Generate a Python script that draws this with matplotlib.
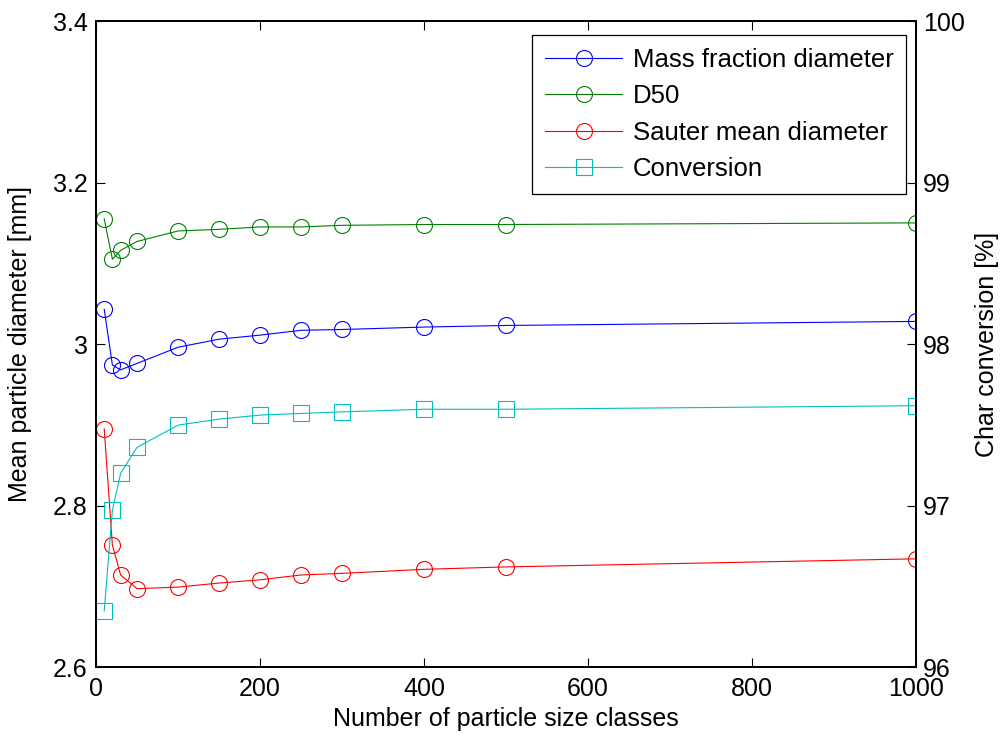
import matplotlib.pyplot as plt
import numpy as np

plt.rcParams['font.family'] = ['Liberation Sans', 'DejaVu Sans']

# numero de clases de tamaño
n_classes = [10, 20, 30, 50, 100, 150, 200, 250, 300, 400, 500, 1000]

# diametros [mm]
mass_fraction = [3.043, 2.974, 2.968, 2.976, 2.996, 3.006, 3.011, 3.017, 3.018, 3.021, 3.023, 3.028]
d50 = [3.155, 3.105, 3.116, 3.127, 3.140, 3.142, 3.145, 3.145, 3.147, 3.148, 3.148, 3.150]
sauter = [2.895, 2.751, 2.714, 2.697, 2.699, 2.704, 2.708, 2.714, 2.716, 2.721, 2.724, 2.734]

# conversion del char [%]
conversion = [96.347, 96.972, 97.199, 97.360, 97.498, 97.535, 97.560, 97.570, 97.580, 97.596, 97.596, 97.618]

fs = 18
fig = plt.figure(figsize=(10, 7.4), dpi=100)
ax = fig.add_axes([0.096, 0.0986, 0.82, 0.873])
ax2 = ax.twinx()

mk = dict(marker='o', markersize=11.5, markerfacecolor='none', markeredgewidth=0.8, linewidth=0.8)
l1, = ax.plot(n_classes, mass_fraction, color='b', markeredgecolor='b', label='Mass fraction diameter', **mk)
l2, = ax.plot(n_classes, d50, color='g', markeredgecolor='g', label='D50', **mk)
l3, = ax.plot(n_classes, sauter, color='r', markeredgecolor='r', label='Sauter mean diameter', **mk)
l4, = ax2.plot(n_classes, conversion, color='c', marker='s', markersize=11.5, markerfacecolor='none',
               markeredgecolor='c', markeredgewidth=0.8, linewidth=0.8, label='Conversion')

ax.set_xlim(0, 1000)
ax.set_ylim(2.6, 3.4)
ax2.set_ylim(96, 100)
ax.set_xticks([0, 200, 400, 600, 800, 1000])
ax.set_yticks([2.6, 2.8, 3.0, 3.2, 3.4])
ax.set_yticklabels(['2.6', '2.8', '3', '3.2', '3.4'])
ax2.set_yticks([96, 97, 98, 99, 100])

ax.tick_params(axis='both', direction='in', length=6.5, width=0.8, labelsize=fs, pad=6, top=True)
ax.tick_params(axis='x', pad=7)
ax2.tick_params(axis='y', direction='in', length=6.5, width=0.8, labelsize=fs, pad=5)

for a in (ax, ax2):
    for s in a.spines.values():
        s.set_linewidth(1.4)

ax.set_xlabel('Number of particle size classes', fontsize=fs)
ax.set_ylabel('Mean particle diameter [mm]', fontsize=fs)
ax2.set_ylabel('Char conversion [%]', fontsize=fs, rotation=90)
ax.yaxis.set_label_coords(-0.078, 0.5)
ax2.yaxis.set_label_coords(1.072, 0.5)
ax.xaxis.set_label_coords(0.5, -0.062)

leg = ax2.legend(handles=[l1, l2, l3, l4], loc='upper right', bbox_to_anchor=(0.988, 0.978),
                 fontsize=18.5, handlelength=3.0, borderaxespad=0, fancybox=False,
                 edgecolor='k', framealpha=1, labelspacing=0.48, handletextpad=0.4, borderpad=0.5)
leg.get_frame().set_linewidth(0.9)

fig.savefig('out.png', dpi=100)
